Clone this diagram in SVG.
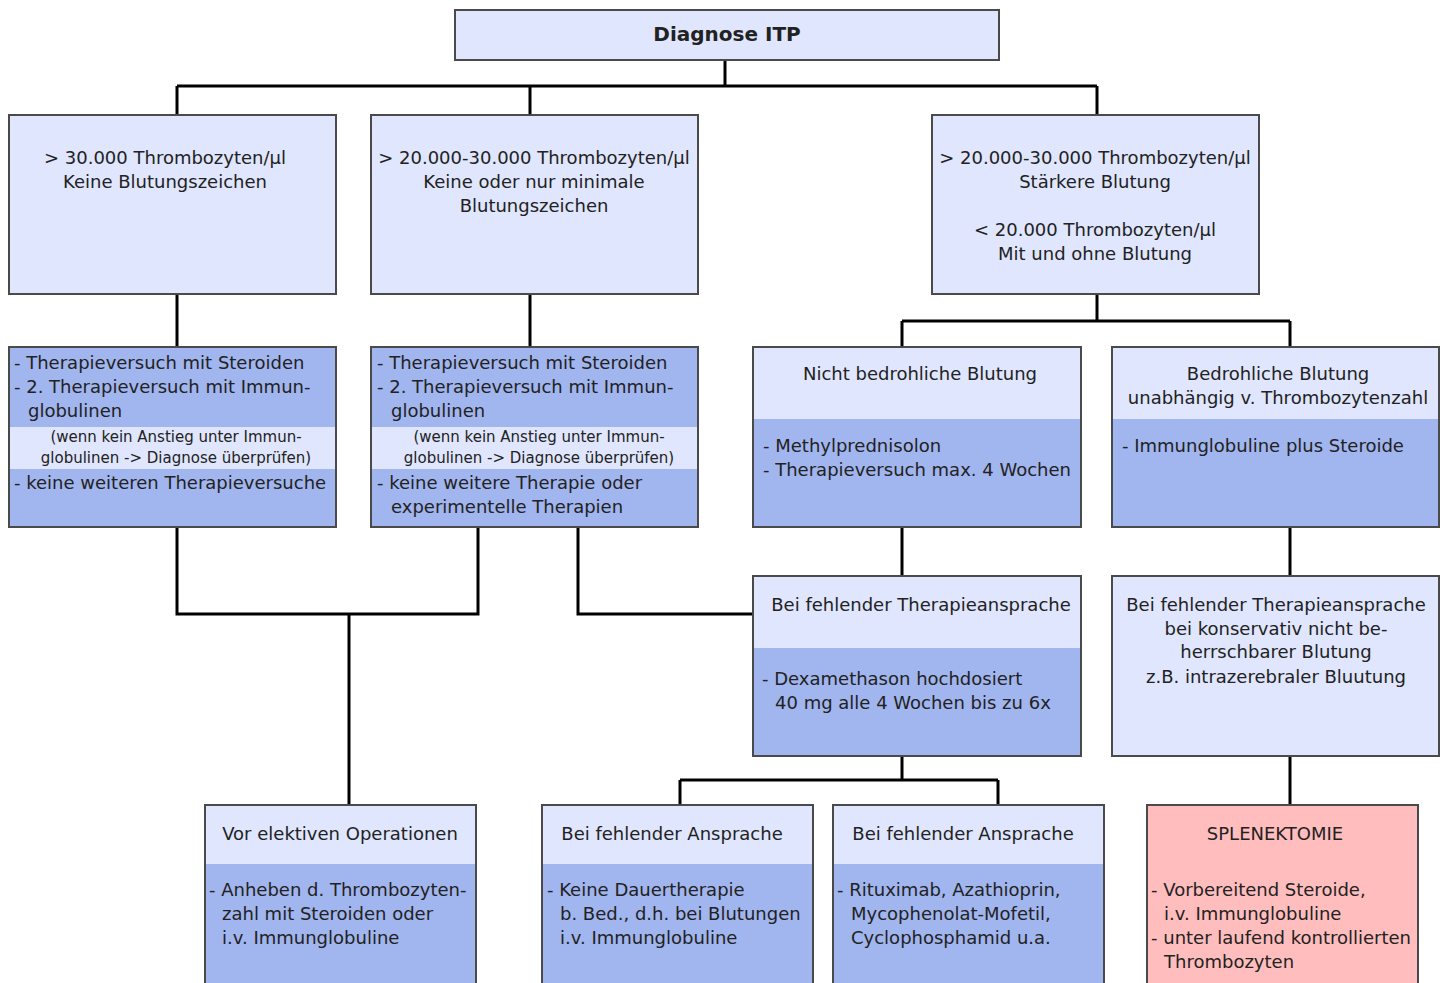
<svg xmlns="http://www.w3.org/2000/svg" width="1447" height="983" viewBox="0 0 1447 983">
<style>
.l{fill:#dfe6fd}
.d{fill:#a1b5ef}
.p{fill:#ffbdbd}
.b{fill:none;stroke:#4a4a4a;stroke-width:2}
text{font-family:"DejaVu Sans","Liberation Sans",sans-serif;font-size:18px;fill:#222}
.c{text-anchor:middle}
.s{font-size:15px}
.t{font-weight:bold;font-size:20px}
.con{fill:none;stroke:#000;stroke-width:3}
</style>
<rect width="1447" height="983" fill="#fff"/>
<g id="connectors" class="con">
<path d="M725 60V86M177 86H1097M177 86V115M530 86V115M1097 86V115"/>
<path d="M177 294V347M530 294V347"/>
<path d="M1097 294V321M902 321H1290M902 321V347M1290 321V347"/>
<path d="M177 527V614H478V527M349 614V805"/>
<path d="M578 527V614H753"/>
<path d="M902 527V576M1290 527V576"/>
<path d="M902 756V780M680 780H998M680 780V805M998 780V805"/>
<path d="M1290 756V805"/>
</g>
<g id="n_top">
<rect class="l" x="455" y="10" width="544" height="50"/><rect class="b" x="455" y="10" width="544" height="50"/>
<text class="c t" x="727" y="41">Diagnose ITP</text>
</g>
<g id="n_a">
<rect class="l" x="9" y="115" width="327" height="179"/><rect class="b" x="9" y="115" width="327" height="179"/>
<text class="c" x="165" y="164">&gt; 30.000 Thrombozyten/µl</text>
<text class="c" x="165" y="188">Keine Blutungszeichen</text>
</g>
<g id="n_b">
<rect class="l" x="371" y="115" width="327" height="179"/><rect class="b" x="371" y="115" width="327" height="179"/>
<text class="c" x="534" y="164">&gt; 20.000-30.000 Thrombozyten/µl</text>
<text class="c" x="534" y="188">Keine oder nur minimale</text>
<text class="c" x="534" y="212">Blutungszeichen</text>
</g>
<g id="n_c">
<rect class="l" x="932" y="115" width="327" height="179"/><rect class="b" x="932" y="115" width="327" height="179"/>
<text class="c" x="1095" y="164">&gt; 20.000-30.000 Thrombozyten/µl</text>
<text class="c" x="1095" y="188">Stärkere Blutung</text>
<text class="c" x="1095" y="236">&lt; 20.000 Thrombozyten/µl</text>
<text class="c" x="1095" y="260">Mit und ohne Blutung</text>
</g>
<g id="n_d">
<rect class="d" x="9" y="347" width="327" height="180"/>
<rect class="l" x="9" y="427" width="327" height="42"/>
<rect class="b" x="9" y="347" width="327" height="180"/>
<text x="14" y="369">- Therapieversuch mit Steroiden</text>
<text x="14" y="393">- 2. Therapieversuch mit Immun-</text>
<text x="28" y="417">globulinen</text>
<text class="c s" x="176" y="442">(wenn kein Anstieg unter Immun-</text>
<text class="c s" x="176" y="463">globulinen -&gt; Diagnose überprüfen)</text>
<text x="14" y="489">- keine weiteren Therapieversuche</text>
</g>
<g id="n_e">
<rect class="d" x="371" y="347" width="327" height="180"/>
<rect class="l" x="371" y="427" width="327" height="42"/>
<rect class="b" x="371" y="347" width="327" height="180"/>
<text x="377" y="369">- Therapieversuch mit Steroiden</text>
<text x="377" y="393">- 2. Therapieversuch mit Immun-</text>
<text x="391" y="417">globulinen</text>
<text class="c s" x="539" y="442">(wenn kein Anstieg unter Immun-</text>
<text class="c s" x="539" y="463">globulinen -&gt; Diagnose überprüfen)</text>
<text x="377" y="489">- keine weitere Therapie oder</text>
<text x="391" y="513">experimentelle Therapien</text>
</g>
<g id="n_f">
<rect class="l" x="753" y="347" width="328" height="72"/>
<rect class="d" x="753" y="419" width="328" height="108"/>
<rect class="b" x="753" y="347" width="328" height="180"/>
<text class="c" x="920" y="380">Nicht bedrohliche Blutung</text>
<text x="763" y="452">- Methylprednisolon</text>
<text x="763" y="476">- Therapieversuch max. 4 Wochen</text>
</g>
<g id="n_g">
<rect class="l" x="1112" y="347" width="327" height="72"/>
<rect class="d" x="1112" y="419" width="327" height="108"/>
<rect class="b" x="1112" y="347" width="327" height="180"/>
<text class="c" x="1278" y="380">Bedrohliche Blutung</text>
<text class="c" x="1278" y="404">unabhängig v. Thrombozytenzahl</text>
<text x="1122" y="452">- Immunglobuline plus Steroide</text>
</g>
<g id="n_h">
<rect class="l" x="753" y="576" width="328" height="72"/>
<rect class="d" x="753" y="648" width="328" height="108"/>
<rect class="b" x="753" y="576" width="328" height="180"/>
<text class="c" x="921" y="611">Bei fehlender Therapieansprache</text>
<text x="762" y="685">- Dexamethason hochdosiert</text>
<text x="775" y="709">40 mg alle 4 Wochen bis zu 6x</text>
</g>
<g id="n_i">
<rect class="l" x="1112" y="576" width="327" height="180"/>
<rect class="b" x="1112" y="576" width="327" height="180"/>
<text class="c" x="1276" y="611">Bei fehlender Therapieansprache</text>
<text class="c" x="1276" y="635">bei konservativ nicht be-</text>
<text class="c" x="1276" y="658">herrschbarer Blutung</text>
<text class="c" x="1276" y="683">z.B. intrazerebraler Bluutung</text>
</g>
<g id="n_j">
<rect class="l" x="205" y="805" width="271" height="59"/>
<rect class="d" x="205" y="864" width="271" height="130"/>
<rect class="b" x="205" y="805" width="271" height="190"/>
<text class="c" x="340" y="840">Vor elektiven Operationen</text>
<text x="209" y="896">- Anheben d. Thrombozyten-</text>
<text x="222" y="920">zahl mit Steroiden oder</text>
<text x="222" y="944">i.v. Immunglobuline</text>
</g>
<g id="n_k">
<rect class="l" x="542" y="805" width="271" height="59"/>
<rect class="d" x="542" y="864" width="271" height="130"/>
<rect class="b" x="542" y="805" width="271" height="190"/>
<text class="c" x="672" y="840">Bei fehlender Ansprache</text>
<text x="547" y="896">- Keine Dauertherapie</text>
<text x="560" y="920">b. Bed., d.h. bei Blutungen</text>
<text x="560" y="944">i.v. Immunglobuline</text>
</g>
<g id="n_l">
<rect class="l" x="833" y="805" width="271" height="59"/>
<rect class="d" x="833" y="864" width="271" height="130"/>
<rect class="b" x="833" y="805" width="271" height="190"/>
<text class="c" x="963" y="840">Bei fehlender Ansprache</text>
<text x="837" y="896">- Rituximab, Azathioprin,</text>
<text x="851" y="920">Mycophenolat-Mofetil,</text>
<text x="851" y="944">Cyclophosphamid u.a.</text>
</g>
<g id="n_m">
<rect class="p" x="1147" y="805" width="271" height="190"/>
<rect class="b" x="1147" y="805" width="271" height="190"/>
<text class="c" x="1275" y="840">SPLENEKTOMIE</text>
<text x="1151" y="896">- Vorbereitend Steroide,</text>
<text x="1164" y="920">i.v. Immunglobuline</text>
<text x="1151" y="944">- unter laufend kontrollierten</text>
<text x="1164" y="968">Thrombozyten</text>
</g>
</svg>
